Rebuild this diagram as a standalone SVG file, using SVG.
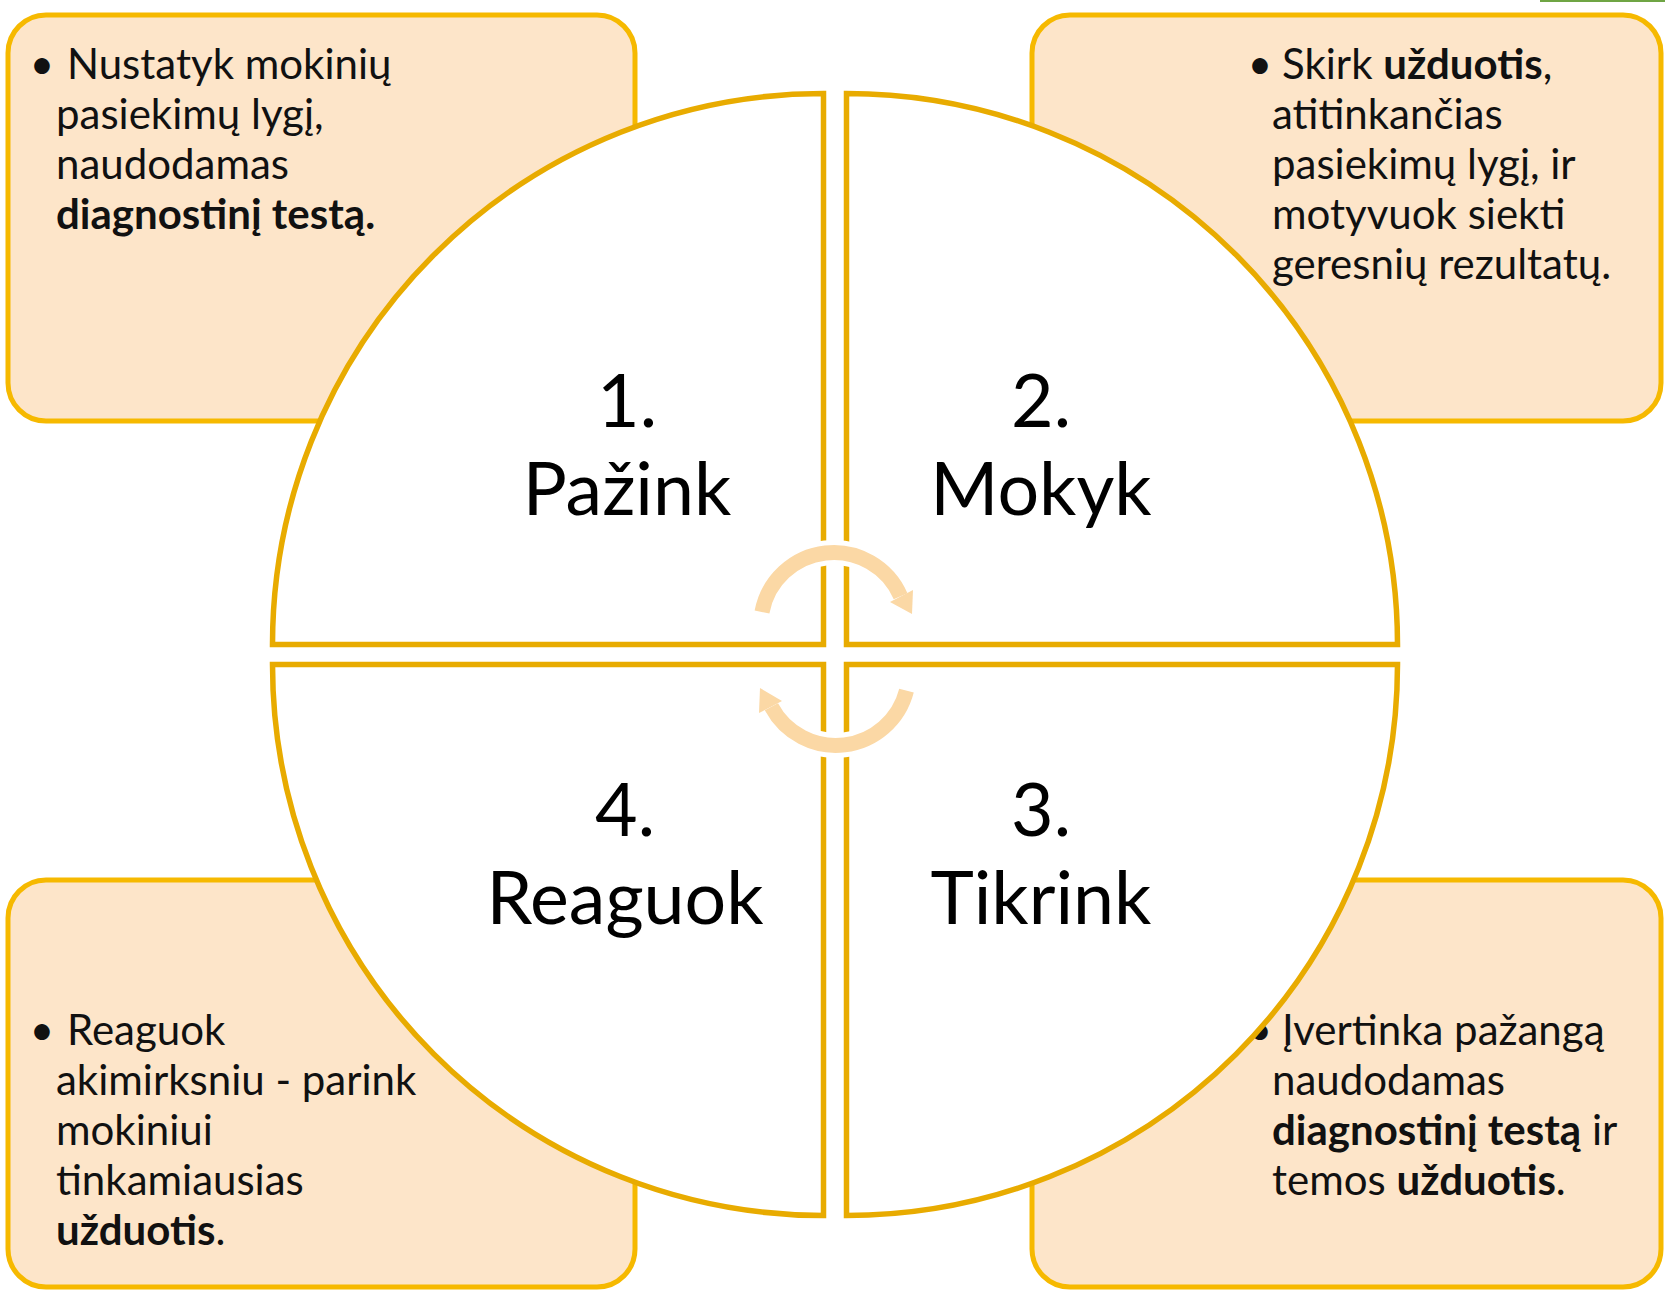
<svg xmlns="http://www.w3.org/2000/svg" width="1665" height="1297" viewBox="0 0 1665 1297">
<style>
.box{fill:#FDE5C9;stroke:#F6B900;stroke-width:5}
.q{fill:#fff;stroke:#E8AB00;stroke-width:5.5}
.t{font-family:Lato,"Open Sans",sans-serif;font-size:42px;fill:#111}
.bu{text-anchor:middle}
.b{font-weight:bold}
.ti{font-family:Lato,"Open Sans",sans-serif;font-size:73.5px;fill:#000;text-anchor:middle}
.halo{fill:none;stroke:#fff;stroke-width:25}
.arc{fill:none;stroke:#FBD8A5;stroke-width:15}
.head{fill:#FBD8A5}
.headhalo{fill:#fff;stroke:#fff;stroke-width:8;stroke-linejoin:round}
</style>
<rect x="1540" y="0" width="125" height="2" fill="#6FA544"/>

<g id="box-1">
<rect class="box" x="8" y="15" width="627" height="406" rx="38"/>
<text class="t bu" x="42" y="79">•</text>
<text class="t" x="67" y="79">Nustatyk mokinių</text>
<text class="t" x="56" y="129">pasiekimų lygį,</text>
<text class="t" x="56" y="179">naudodamas</text>
<text class="t b" x="56" y="229">diagnostinį testą.</text>
</g>

<g id="box-2">
<rect class="box" x="1032" y="15" width="629" height="406" rx="38"/>
<text class="t bu" x="1260" y="79">•</text>
<text class="t" x="1282" y="79">Skirk <tspan class="b">užduotis</tspan>,</text>
<text class="t" x="1272" y="129">atitinkančias</text>
<text class="t" x="1272" y="179">pasiekimų lygį, ir</text>
<text class="t" x="1272" y="229">motyvuok siekti</text>
<text class="t" x="1272" y="279">geresnių rezultatų.</text>
</g>

<g id="box-4">
<rect class="box" x="8" y="880" width="627" height="407" rx="38"/>
<text class="t bu" x="42" y="1045">•</text>
<text class="t" x="67" y="1045">Reaguok</text>
<text class="t" x="56" y="1095">akimirksniu - parink</text>
<text class="t" x="56" y="1145">mokiniui</text>
<text class="t" x="56" y="1195">tinkamiausias</text>
<text class="t" x="56" y="1245"><tspan class="b">užduotis</tspan>.</text>
</g>

<g id="box-3">
<rect class="box" x="1032" y="880" width="629" height="407" rx="38"/>
<text class="t bu" x="1260" y="1045">•</text>
<text class="t" x="1282" y="1045">Įvertinka pažangą</text>
<text class="t" x="1272" y="1095">naudodamas</text>
<text class="t" x="1272" y="1145"><tspan class="b">diagnostinį testą</tspan> ir</text>
<text class="t" x="1272" y="1195">temos <tspan class="b">užduotis</tspan>.</text>
</g>

<g id="node-1">
<path class="q" d="M823.5 644.5 L823.5 93.5 A551 551 0 0 0 272.5 644.5 Z"/>
<text class="ti" x="627" y="427">1.</text>
<text class="ti" x="627" y="515">Pažink</text>
</g>
<g id="node-2">
<path class="q" d="M846.5 644.5 L846.5 93.5 A551 551 0 0 1 1397.5 644.5 Z"/>
<text class="ti" x="1041" y="427">2.</text>
<text class="ti" x="1041" y="515">Mokyk</text>
</g>
<g id="node-3">
<path class="q" d="M846.5 664.5 L1397.5 664.5 A551 551 0 0 1 846.5 1215.5 Z"/>
<text class="ti" x="1041" y="836">3.</text>
<text class="ti" x="1041" y="924">Tikrink</text>
</g>
<g id="node-4">
<path class="q" d="M823.5 664.5 L272.5 664.5 A551 551 0 0 0 823.5 1215.5 Z"/>
<text class="ti" x="625" y="836">4.</text>
<text class="ti" x="625" y="924">Reaguok</text>
</g>

<g id="connectors">
<path class="halo" d="M762 612 A73 73 0 0 1 900.6 596.2"/>
<polygon class="headhalo" points="890,602 913,590 912,614"/>
<path class="arc" d="M762 612 A73 73 0 0 1 900.6 596.2"/>
<polygon class="head" points="890,602 913,590 912,614"/>

<path class="halo" d="M906.5 690.6 A73 73 0 0 1 771.4 706.8"/>
<polygon class="headhalo" points="782,701 759,713 760,688"/>
<path class="arc" d="M906.5 690.6 A73 73 0 0 1 771.4 706.8"/>
<polygon class="head" points="782,701 759,713 760,688"/>
</g>
</svg>
